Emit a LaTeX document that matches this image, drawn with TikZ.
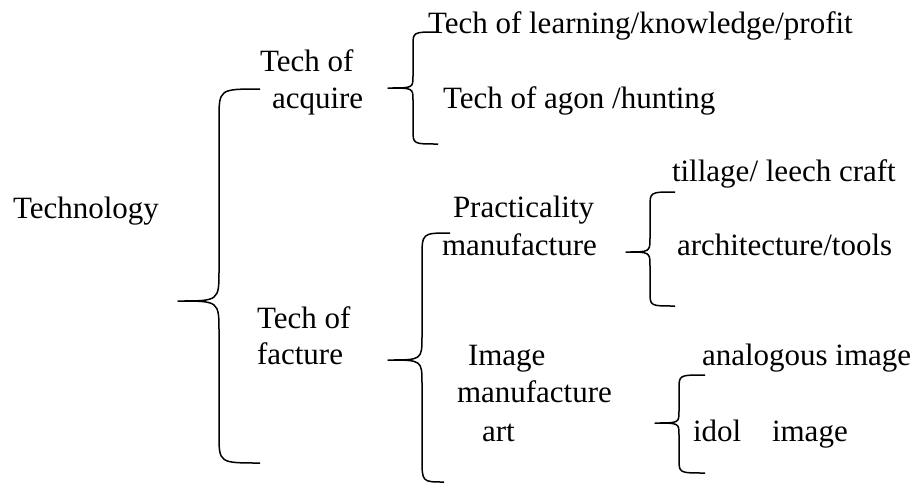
\documentclass[tikz,border=0pt]{standalone}
\usepackage{fontspec}
\setmainfont{Liberation Serif}
\begin{document}
\begin{tikzpicture}[x=1pt,y=-1pt,
  lbl/.style={anchor=base west,inner sep=0pt,outer sep=0pt,font=\fontsize{31}{34}\selectfont},
  brace/.style={line width=1.5pt,line join=round}]
\useasboundingbox (0,0) rectangle (914,483);
% texts
\node[lbl] (tech) at (13,218) {Technology};
\node[lbl] (acq1) at (260,71) {Tech of};
\node[lbl] (acq2) at (272,108) {acquire};
\node[lbl] (learn) at (428,33) {Tech of learning/knowledge/profit};
\node[lbl] (agon) at (443,108) {Tech of agon /hunting};
\node[lbl] (fac1) at (257,328) {Tech of};
\node[lbl] (fac2) at (257,364) {facture};
\node[lbl] (prac1) at (453,217) {Practicality};
\node[lbl] (prac2) at (442,255) {manufacture};
\node[lbl] (till) at (672,181) {tillage/ leech craft};
\node[lbl] (arch) at (677,255) {architecture/tools};
\node[lbl] (img1) at (468,365) {Image};
\node[lbl] (img2) at (457,402) {manufacture};
\node[lbl] (img3) at (482,441) {art};
\node[lbl] (analog) at (702,365) {analogous image};
\node[lbl] (idol) at (693,441) {idol};
\node[lbl] (image) at (772,441) {image};
% braces: top end, vertical x, tip, bottom end
% big brace (Technology)
\draw[brace] (260,89) .. controls (219,89) .. (219,120) -- (219,270)
  .. controls (219,301) .. (178,301)
  .. controls (219,301) .. (219,332) -- (219,434)
  .. controls (219,463) .. (260,463);
% acquire brace
\draw[brace] (437,32) .. controls (413,32) .. (413,46) -- (413,76)
  .. controls (413,88) .. (388,88)
  .. controls (413,88) .. (413,100) -- (413,130)
  .. controls (413,144) .. (438,144);
% facture brace
\draw[brace] (450,233) .. controls (422,233) .. (422,258) -- (422,336)
  .. controls (422,360) .. (388,360)
  .. controls (422,360) .. (422,384) -- (422,458)
  .. controls (422,482) .. (444,482);
% practicality brace
\draw[brace] (675,192) .. controls (650,192) .. (650,207) -- (650,238)
  .. controls (650,252) .. (626,252)
  .. controls (650,252) .. (650,266) -- (650,292)
  .. controls (650,306) .. (675,306);
% image brace
\draw[brace] (705,375) .. controls (679,375) .. (679,389) -- (679,411)
  .. controls (679,423) .. (655,423)
  .. controls (679,423) .. (679,435) -- (679,459)
  .. controls (679,473) .. (705,473);
\end{tikzpicture}
\end{document}
